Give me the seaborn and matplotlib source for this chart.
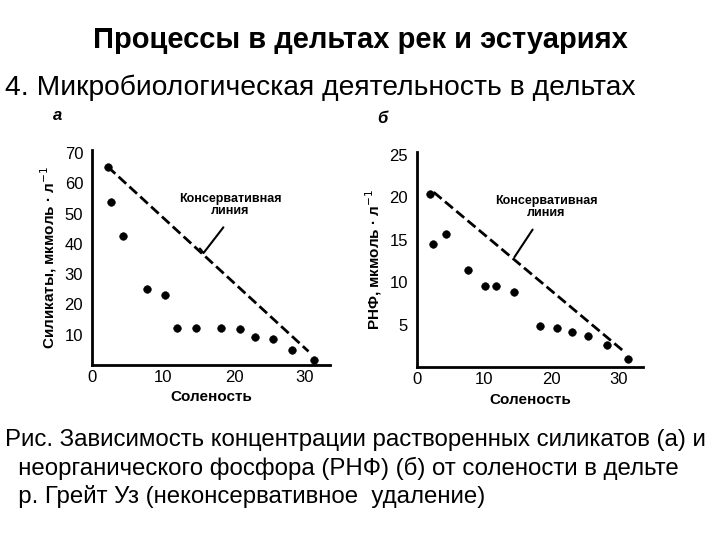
import matplotlib
matplotlib.use("Agg")
import matplotlib.pyplot as plt
import seaborn as sns

sns.set_style("white")
plt.rcParams['font.family'] = ['Liberation Sans', 'DejaVu Sans']
plt.rcParams['text.color'] = 'black'
plt.rcParams['axes.labelcolor'] = 'black'
plt.rcParams['xtick.color'] = 'black'
plt.rcParams['ytick.color'] = 'black'

# panel a: silicates
sal_a = [2.2, 2.7, 4.4, 7.7, 10.2, 12.0, 14.6, 18.1, 20.8, 23.0, 25.5, 28.2, 31.3]
sil_a = [65.5, 54, 42.7, 25, 23, 12.4, 12.4, 12.2, 11.9, 9.4, 8.5, 5, 1.7]
cons_a_x = [2.2, 30.5]
cons_a_y = [65.5, 4.5]

# panel b: inorganic phosphorus
sal_b = [1.9, 2.4, 4.3, 7.6, 10.1, 11.8, 14.5, 18.3, 20.8, 23.1, 25.5, 28.2, 31.4]
phos_b = [20.4, 14.5, 15.7, 11.4, 9.5, 9.6, 8.8, 4.9, 4.6, 4.1, 3.7, 2.6, 1.0]
cons_b_x = [2.5, 30.7]
cons_b_y = [20.6, 1.9]

fig = plt.figure(figsize=(7.2, 5.4), dpi=100)

fig.text(0.5, 0.925, "Процессы в дельтах рек и эстуариях", ha='center', va='center',
         fontsize=21, fontweight='bold')
fig.text(0.007, 0.837, "4. Микробиологическая деятельность в дельтах", ha='left', va='center',
         fontsize=20.3)
caption = ("Рис. Зависимость концентрации растворенных силикатов (а) и\n"
           "  неорганического фосфора (РНФ) (б) от солености в дельте\n"
           "  р. Грейт Уз (неконсервативное  удаление)")
fig.text(0.007, 0.205, caption, ha='left', va='top', fontsize=17.3, linespacing=1.3)


def panel(rect, x, y, cx, cy, ylim, yticks, ylabel, letter, ptr, label_xy):
    ax = fig.add_axes(rect)
    sns.scatterplot(x=x, y=y, ax=ax, color='black', s=30, edgecolor='black', zorder=3)
    sns.lineplot(x=cx, y=cy, ax=ax, color='black', lw=2, dashes=(4, 3), linestyle='--')
    ax.plot(ptr[0], ptr[1], color='black', lw=1.5)
    ax.text(label_xy[0], label_xy[1], "Консервативная\nлиния", ha='center', va='center',
            fontsize=9, fontweight='bold', linespacing=1.0)
    ax.set_xlim(0, 33.6)
    ax.set_ylim(*ylim)
    ax.set_xticks([0, 10, 20, 30])
    ax.set_yticks(yticks)
    ax.tick_params(axis='both', labelsize=12, length=5, width=1.5, direction='in')
    ax.tick_params(axis='y', direction='out', length=3)
    for s in ['top', 'right']:
        ax.spines[s].set_visible(False)
    for s in ['left', 'bottom']:
        ax.spines[s].set_linewidth(2)
        ax.spines[s].set_color('black')
    ax.set_xlabel("Соленость", fontsize=11, fontweight='bold')
    ax.set_ylabel(ylabel, fontsize=11, fontweight='bold')
    fig.text(rect[0] - 0.055, rect[1] + rect[3] + 0.055, letter, fontsize=12,
             fontweight='bold', style='italic')
    return ax


panel([0.128, 0.324, 0.331, 0.398], sal_a, sil_a, cons_a_x, cons_a_y, (0, 71),
      [10, 20, 30, 40, 50, 60, 70], "Силикаты, мкмоль · л$^{-1}$", "а",
      ([15.2, 15.7, 18.5], [38.5, 37, 45.5]), (19.5, 53))
panel([0.579, 0.320, 0.314, 0.398], sal_b, phos_b, cons_b_x, cons_b_y, (0, 25.3),
      [5, 10, 15, 20, 25], "РНФ, мкмоль · л$^{-1}$", "б",
      ([14.5, 17.2], [12.96, 16.2]), (19.2, 18.8))

fig.savefig("out.png", dpi=100)
